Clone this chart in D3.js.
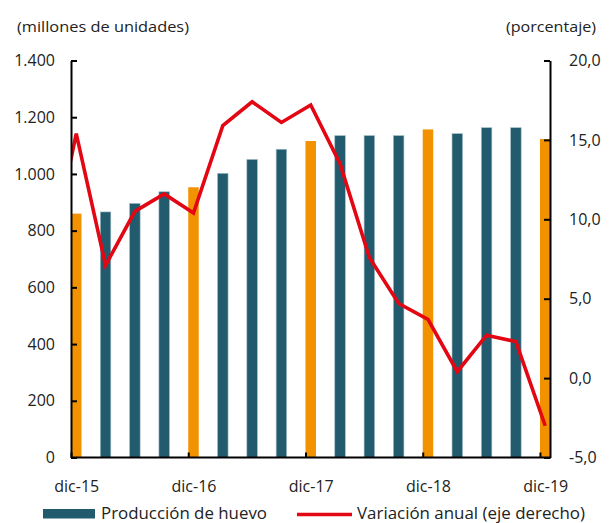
<!DOCTYPE html>
<html>
<head>
<meta charset="utf-8">
<script src="https://cdn.jsdelivr.net/npm/d3@7"></script>
<style>
  body { margin: 0; background: #fff; }
  svg text { font-family: "Open Sans", "DejaVu Sans", sans-serif; fill: #222; }
</style>
</head>
<body>
<div id="chart"></div>
<script>
// Producción de huevo (millones de unidades) and annual variation (%)
const quarters = ["dic-15", "mar-16", "jun-16", "sep-16", "dic-16", "mar-17", "jun-17", "sep-17",
                  "dic-17", "mar-18", "jun-18", "sep-18", "dic-18", "mar-19", "jun-19", "sep-19", "dic-19"];
const production = [860, 866, 896, 937, 953, 1002, 1051, 1087, 1116, 1135, 1135, 1135, 1157, 1142, 1163, 1163, 1123];
const variation = [15.4, 7.1, 10.5, 11.6, 10.4, 15.9, 17.4, 16.1, 17.2, 13.5, 7.6, 4.7, 3.7, 0.4, 2.7, 2.3, -3.0];
// sep-15 lies left of the plot; only its segment into dic-15 shows
const prevQuarter = "sep-15";
const prevVariation = 6.5;
const leftTicks = [0, 200, 400, 600, 800, 1000, 1200, 1400];
const rightTicks = [-5, 0, 5, 10, 15, 20];
const labelQuarters = ["dic-15", "dic-16", "dic-17", "dic-18", "dic-19"];

const width = 609;
const height = 523;
const margin = {left: 71, right: 59, top: 61, bottom: 66};
const step = 29.31;
const barW = 10.5;

const teal = "#235b6e";
const orange = "#f39200";
const red = "#e30613";

const loc = d3.formatLocale({decimal: ",", thousands: ".", grouping: [3], currency: ["", ""], minus: "-"});

const svg = d3.select("#chart")
  .append("svg")
  .attr("width", width)
  .attr("height", height);

const x = d3.scalePoint()
  .domain([prevQuarter].concat(quarters))
  .range([margin.left - step, margin.left + 16 * step]);

const yL = d3.scaleLinear()
  .domain([0, 1400])
  .range([height - margin.bottom + 0.5, margin.top - 0.5]);

const yR = d3.scaleLinear()
  .domain([-5, 20])
  .range([height - margin.bottom + 0.5, margin.top - 0.5]);

const x0 = margin.left, x1 = width - margin.right;
const yBase = yL(0);

// clip for the line
svg.append("clipPath").attr("id", "plot")
  .append("rect")
  .attr("x", x0).attr("y", margin.top - 10)
  .attr("width", x1 - x0).attr("height", yBase - margin.top + 10);

// bars
svg.selectAll(".bar")
  .data(production)
  .enter()
  .append("rect")
    .attr("class", "bar")
    .attr("x", (d, i) => x(quarters[i]))
    .attr("y", d => yL(d))
    .attr("width", barW)
    .attr("height", d => yBase - yL(d))
    .attr("fill", (d, i) => quarters[i].startsWith("dic") ? orange : teal)
    .attr("stroke", (d, i) => quarters[i].startsWith("dic") ? "none" : "#9dbcc6")
    .attr("stroke-width", 0.6);

// line
const linePts = [[prevQuarter, prevVariation]].concat(quarters.map((q, i) => [q, variation[i]]));
svg.append("path")
  .datum(linePts)
  .attr("clip-path", "url(#plot)")
  .attr("fill", "none")
  .attr("stroke", red)
  .attr("stroke-width", 3.6)
  .attr("stroke-linejoin", "miter")
  .attr("d", d3.line()
    .x(d => x(d[0]) + barW / 2)
    .y(d => yR(d[1])));

// left axis
const gL = svg.append("g")
  .attr("transform", `translate(${x0},0)`)
  .call(d3.axisLeft(yL).tickValues(leftTicks).tickSizeInner(-6).tickSizeOuter(0)
    .tickPadding(16).tickFormat(loc.format(",.0f")));

// right axis
const gR = svg.append("g")
  .attr("transform", `translate(${x1},0)`)
  .call(d3.axisRight(yR).tickValues(rightTicks).tickSizeInner(-6).tickSizeOuter(0)
    .tickPadding(19).tickFormat(loc.format(".1f")));

// bottom axis: ticks at each December, labels centred on the bars
const gB = svg.append("g")
  .attr("transform", `translate(0,${yBase})`)
  .call(d3.axisBottom(x).tickValues(labelQuarters).tickSizeInner(-5).tickSizeOuter(0));
gB.select(".domain").remove();
gB.selectAll(".tick text")
  .attr("x", barW / 2)
  .attr("y", 34)
  .attr("dy", 0);
gB.append("line")
  .attr("x1", x0).attr("x2", x1 + 1)
  .attr("stroke", "#000").attr("stroke-width", 2);

[gL, gR, gB].forEach(g => {
  g.selectAll(".domain").attr("stroke", "#000").attr("stroke-width", 2);
  g.selectAll(".tick line").attr("stroke", "#000").attr("stroke-width", 2);
  g.selectAll(".tick text").attr("font-size", 16).attr("fill", "#222")
    .style("font-family", '"Open Sans", sans-serif');
});

// axis titles
svg.append("text")
  .attr("x", 17).attr("y", 32)
  .attr("font-size", 15)
  .attr("textLength", 172).attr("lengthAdjust", "spacingAndGlyphs")
  .text("(millones  de unidades)");
svg.append("text")
  .attr("x", 506).attr("y", 32)
  .attr("font-size", 15)
  .attr("textLength", 90).attr("lengthAdjust", "spacingAndGlyphs")
  .text("(porcentaje)");

// legend
svg.append("rect")
  .attr("x", 43).attr("y", 509)
  .attr("width", 52).attr("height", 9.5)
  .attr("fill", teal);
svg.append("text")
  .attr("x", 101).attr("y", 519)
  .attr("font-size", 15.5)
  .attr("textLength", 166).attr("lengthAdjust", "spacingAndGlyphs")
  .text("Producción de huevo");
svg.append("line")
  .attr("x1", 297).attr("x2", 352)
  .attr("y1", 514.5).attr("y2", 514.5)
  .attr("stroke", red).attr("stroke-width", 3.6);
svg.append("text")
  .attr("x", 357).attr("y", 519)
  .attr("font-size", 15.5)
  .attr("textLength", 228).attr("lengthAdjust", "spacingAndGlyphs")
  .text("Variación anual (eje derecho)");
</script>
</body>
</html>
